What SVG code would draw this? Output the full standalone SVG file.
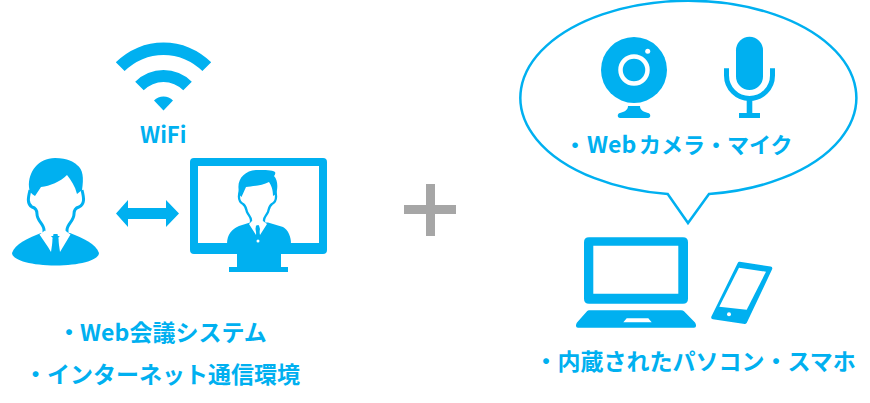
<svg xmlns="http://www.w3.org/2000/svg" width="870" height="403" viewBox="0 0 870 403">
<style>
.b{fill:#00b0f0}
.w{fill:#fff}
.o{fill:none;stroke:#00b0f0}
text{font-family:"Noto Sans CJK JP","Liberation Sans",sans-serif;font-weight:700;font-size:23px;fill:#00b0f0}
</style>
<rect width="870" height="403" fill="#fff"/>
<g id="wifi">
<path class="b" d="M115.800 62.300A67.500 67.500 0 0 1 211.200 62.300L202.400 71.100A55 55 0 0 0 124.600 71.100Z"/>
<path class="b" d="M135.200 81.700A40 40 0 0 1 191.800 81.700L183.300 90.200A28 28 0 0 0 143.700 90.200Z"/>
<path class="b" d="M154 100.500A13.500 13.500 0 0 1 173 100.500L163.500 110.500Z"/>
<text x="140" y="143" style="font-size:22px">WiFi</text>
</g>
<g id="user">
<path class="b" d="M12 253C15 244 28 238 41 233L70 233C83 238 96 244 99 253C99 260 80 265.500 55.500 265.500C31 265.500 12 260 12 253Z"/>
<path class="o" stroke-width="3" d="M30 190C28 198 27 204 32 207C36 208 37 210 37 214C37 221 44 224 44 230L44 236M82 190C84 198 85 204 79 207C75 208 74 210 74 214C74 221 67 224 67 230L67 236"/>
<path class="w" d="M45.500 232L65.500 232L65.500 236L45.500 236Z"/>
<path class="w" d="M39.500 234.500L45 230.500L53 238L51 252L48 247ZM70.500 234.500L65 230.500L58 238L60 252L63 247Z"/>
<path class="b" d="M53.500 234L57.500 234L58.500 239L57.800 251L53.200 251L52.500 239Z"/>
<path class="b" d="M29 187C28 172 38 158 55 158C68 158 74 162 77 165C83 169 84 178 82 190L77 194C75 186 71 180 67 175C60 182 50 186 41 187L35 196C31 194 29 191 29 187Z"/>
</g>
<g id="link"><path class="b" d="M116 213.500L128 200V208H166V200L179 213.500L166 227V219H128V227Z"/></g>
<g id="monitor">
<path class="b" fill-rule="evenodd" d="M194 158H323Q327 158 327 162V250Q327 254 323 254H194Q190 254 190 250V162Q190 158 194 158ZM198 166V243H319V166Z"/>
<path class="b" d="M237 250H281V267H288V272H229V267H237Z"/>
<path class="b" d="M227 244C227 234 232 229 239 226L250 222.500L268 222.500L283 227C288 230 291 236 291 244Z"/>
<path class="o" stroke-width="2.300" d="M240 190C238 197 239 202 243 204C246 206 246 209 247 212C249 216 251 217 251 220L251 225M275 190C277 197 276 202 272 204C269 206 269 209 268 212C266 216 264 217 264 220L264 225"/>
<path class="w" d="M252.300 221L262.700 221L262.700 225L252.300 225Z"/>
<path class="w" d="M249 224L252 221L258 226L256 235ZM267 224L263 221L258 226L260 235Z"/>
<path class="b" d="M256 225.500L259 225.500L260 229L258.500 238L257 238L255.500 229Z"/>
<path class="b" d="M239 192C236 179 245 170 258 170C265 170 272 170 275 172C276 174 274 176 274 176C278 180 278 188 276 194L273 196C273 189 271 185 269 182C262 186 252 186 246 187L241.500 197C240 196 239 194 239 192Z"/>
<circle class="w" cx="258" cy="241" r="1.500"/>
</g>
<g id="plus">
<path fill="#a6a6a6" d="M426 184H435V205H456V214H435V236H426V214H404V205H426Z"/>
</g>
<g id="bubble">
<path class="o" stroke-width="2.500" d="M667.700 194A168 97 0 1 1 709 194L688 223Z" fill="#fff"/>
</g>
<g id="camera">
<circle class="b" cx="634" cy="70" r="33"/>
<circle class="o" style="stroke:#fff" cx="634" cy="70" r="13.500" stroke-width="4.500"/>
<circle class="w" cx="647.700" cy="51.300" r="2.500"/>
<path class="b" d="M628 106H640C640 110 644 112 648 113C651 113.500 651 118 648 118H620C617 118 617 113.500 620 113C624 112 628 110 628 106Z"/>
</g>
<g id="mic">
<rect class="b" x="736" y="36.700" width="27" height="53.300" rx="13.500"/>
<path class="o" stroke-width="5" d="M726.500 68.300V75.500A23 23 0 0 0 772.500 75.500V68.300"/>
<path class="b" d="M746.700 100H752.300V113H760V118H739V113H746.700Z"/>
</g>
<text id="label-camera" x="564" y="153" style="font-size:22px">・<tspan x="587" style="font-size:23px">Web</tspan><tspan x="639">カメラ・マイク</tspan></text>
<g id="laptop">
<path class="b" fill-rule="evenodd" d="M589 237.300H683Q688 237.300 688 242.300V298.700Q688 303.700 683 303.700H589Q584 303.700 584 298.700V242.300Q584 237.300 589 237.300ZM593.300 245.700V293.700H678.300V245.700Z"/>
<path class="b" fill-rule="evenodd" d="M589 310.300H681Q683 310.300 684 311.300L695 322.500Q696 324 696 325.500V326Q696 327.700 694 327.700H578Q576 327.700 576 326V325.500Q576 324 577 322.500L587 311.300Q588 310.300 589 310.300ZM626.700 318.300L623.300 322.300H651.700L648.300 318.300Z"/>
</g>
<g id="phone">
<path class="b" stroke="#00b0f0" stroke-width="4" stroke-linejoin="round" d="M739.500 263.800L770.300 268.500L745 322L713.200 317.300Z"/>
<path class="w" d="M739 267.700L719.300 306.700L746.700 309.700L766 271.700Z"/>
<circle class="w" cx="729" cy="314.300" r="2"/>
</g>
<text id="label-system" x="57.500" y="341">・<tspan x="80">Web</tspan><tspan x="129.500">会議システム</tspan></text>
<text id="label-internet" x="24" y="383">・インターネット通信環境</text>
<text id="label-device" x="534.500" y="370">・内蔵されたパソコン・スマホ</text>
</svg>
